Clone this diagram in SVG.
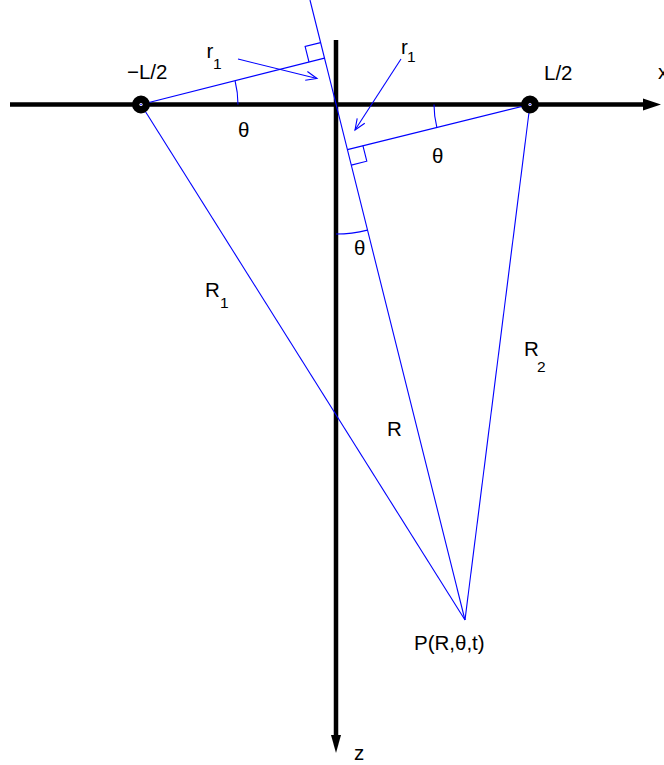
<svg xmlns="http://www.w3.org/2000/svg" width="664" height="765" viewBox="0 0 664 765">
<defs>
<style>
.ax{stroke:#000;stroke-width:4.5;fill:none}
.bl{stroke:#0000ff;stroke-width:1.1;fill:none}
.t{font-family:"Liberation Sans",Arial,sans-serif;font-size:20.5px;fill:#000}
.s{font-size:15.5px}
</style>
<marker id="oa" viewBox="-12 -6 14 12" markerWidth="14" markerHeight="12" refX="0" refY="0" orient="auto" markerUnits="userSpaceOnUse">
<path d="M-11,-4.5 L0,0 L-11,4.5" stroke="#0000ff" stroke-width="1.1" fill="none"/>
</marker>
</defs>
<rect width="664" height="765" fill="#fff"/>
<g id="axes">
<line class="ax" x1="10" y1="104.5" x2="646" y2="104.5"/>
<polygon points="643,98.5 661,104.5 643,110.5" fill="#000"/>
<line class="ax" x1="336" y1="40" x2="336" y2="738"/>
<polygon points="331,735 336,753 341,735" fill="#000"/>
</g>
<g id="connectors">
<line class="bl" x1="310" y1="0" x2="465" y2="620"/>
<line class="bl" x1="141" y1="104.5" x2="324.5" y2="58.1"/>
<line class="bl" x1="530" y1="104.5" x2="347.4" y2="149.6"/>
<line class="bl" x1="141" y1="104.5" x2="465" y2="620"/>
<line class="bl" x1="530" y1="104.5" x2="465" y2="620"/>
<path class="bl" d="M320.6,42.6 L305.1,46.5 L309,62"/>
<path class="bl" d="M351.3,165.1 L366.8,161.2 L362.9,145.7"/>
<path class="bl" d="M238,104.5 A97,97 0 0 0 235.1,81"/>
<path class="bl" d="M434,104.5 A96,96 0 0 0 436.9,127.7"/>
<path class="bl" d="M336,234 A130,130 0 0 0 367.4,230.1"/>
<line class="bl" x1="238" y1="59" x2="317" y2="78.5" marker-end="url(#oa)"/>
<line class="bl" x1="401" y1="59" x2="355" y2="130" marker-end="url(#oa)"/>
</g>
<g id="nodeA">
<circle cx="141" cy="104.5" r="5" fill="#000" stroke="#000" stroke-width="8"/>
<circle cx="141" cy="104.5" r="1.6" fill="#fff"/>
<circle cx="141" cy="104.5" r="0.8" fill="#0000ff"/>
<text class="t" x="127" y="79">−L/2</text>
</g>
<g id="nodeB">
<circle cx="530" cy="104.5" r="5" fill="#000" stroke="#000" stroke-width="8"/>
<circle cx="530" cy="104.5" r="1.6" fill="#fff"/>
<circle cx="530" cy="104.5" r="0.8" fill="#0000ff"/>
<text class="t" x="544" y="80">L/2</text>
</g>
<g id="nodeP">
<text class="t" x="414" y="650">P(R,θ,t)</text>
</g>
<g id="labels">
<text class="t" x="658" y="79">x</text>
<text class="t" x="354" y="760">z</text>
<text class="t" x="206.5" y="57.5">r</text><text class="t s" x="213" y="68.5">1</text>
<text class="t" x="401" y="53.5">r</text><text class="t s" x="407" y="62">1</text>
<text class="t" x="238" y="137">θ</text>
<text class="t" x="432" y="163">θ</text>
<text class="t" x="354" y="255">θ</text>
<text class="t" x="205" y="297">R</text><text class="t s" x="220" y="307.5">1</text>
<text class="t" x="524" y="356">R</text><text class="t s" x="537" y="371.5">2</text>
<text class="t" x="387" y="436">R</text>
</g>
</svg>
